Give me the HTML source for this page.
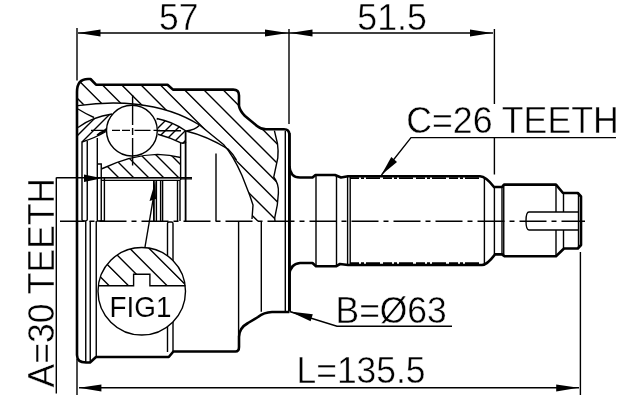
<!DOCTYPE html>
<html><head><meta charset="utf-8"><style>
html,body{margin:0;padding:0;background:#fff;width:640px;height:400px;overflow:hidden}
svg{display:block;filter:grayscale(1)}
text{font-family:"Liberation Sans",sans-serif;fill:#000;stroke:#fff;stroke-width:0.45px}
</style></head><body>
<svg width="640" height="400" viewBox="0 0 640 400">
<defs>
<clipPath id="cb"><path d="M77,92 Q77,79 88,79 L90.5,79 L96,84.7 L167.5,84.7 L173,89.6 L233,89.5 Q239,89.5 239,95.5 L239,106 Q240,111 245,116 L257,126 Q261,129.3 266,129.3 L274.4,130.6 L277.5,143.75 Q278.5,150 277.8,158 L273.75,177 Q279,184 278.4,193 Q278,205 274.7,221 L252,221 L253,205 L250,196 L242,175.5 L237,162.5 L223.5,144.5 L199.5,125 C160,100 110,101 78,105.6 Z"/></clipPath>
<clipPath id="cr"><path d="M101.9,168.75 Q131,155 157.5,154.4 Q170,155 180.6,157.5 L180.6,177.5 L101.9,177.5 Z"/></clipPath>
<clipPath id="ccl"><path d="M78,127.5 Q92,117 112,114 L106,129 L106,131.5 Q96,137.5 82,142 L78,142 Z"/></clipPath>
<clipPath id="ccr"><path d="M156.75,118.5 Q172.5,121.5 186,131 V142 Q184,144 180.4,142.7 Q170,137.5 157.9,134.3 Z"/></clipPath>
</defs>
<g fill="none" stroke="#000" stroke-width="1.4">
<path clip-path="url(#cb)" d="M60,100.40L300,340.40M60,81.10L300,321.10M60,61.80L300,301.80M60,42.50L300,282.50M60,23.20L300,263.20M60,3.90L300,243.90M60,-15.40L300,224.60M60,-34.70L300,205.30M60,-54.00L300,186.00M60,-73.30L300,166.70M60,-92.60L300,147.40M60,-111.90L300,128.10M60,-131.20L300,108.80M60,-150.50L300,89.50M60,-169.80L300,70.20M60,-189.10L300,50.90M60,-208.40L300,31.60M60,-227.70L300,12.30M60,-247.00L300,-7.00"/>
<path clip-path="url(#cr)" d="M60,119.00L300,359.00M60,104.00L300,344.00M60,89.00L300,329.00M60,74.00L300,314.00M60,59.00L300,299.00M60,44.00L300,284.00M60,29.00L300,269.00M60,14.00L300,254.00M60,-1.00L300,239.00M60,-16.00L300,224.00M60,-31.00L300,209.00"/>
<path clip-path="url(#ccl)" d="M60,131.00L300,-109.00M60,142.00L300,-98.00M60,153.00L300,-87.00M60,164.00L300,-76.00M60,175.00L300,-65.00M60,186.00L300,-54.00"/>
<path clip-path="url(#ccr)" d="M60,216.00L300,-24.00M60,226.00L300,-14.00M60,236.00L300,-4.00M60,246.00L300,6.00M60,256.00L300,16.00M60,266.00L300,26.00"/>
<path d="M78,105.6 C110,101 160,100 199.5,125 L223.5,144.5 Q233,155 242,175.5 L250,196 L253,205 L252,219"/>
<path d="M274.4,130.6 L277.5,143.75 Q278.5,150 277.8,158 L273.75,177 Q279,184 278.4,193 Q278,205 274.7,218 L275,221"/>
<path d="M101.9,168.75 Q131,155 157.5,154.4 Q170,155 180.6,157.5"/>
<path d="M78,127.5 Q92,117 112,114 M106,131.5 Q96,137.5 82,142 M106,130 Q101,132 97,135"/>
<path d="M156.75,118.5 Q172.5,121.5 186,131 Q195,130 199.5,125.3 M157.9,134.3 Q170,137.5 180.4,142.7 Q184,144 186,142 M186,131 Q207,136 228,149 Q233,154 236.5,160"/>
<path d="M78,109 Q86,114 94,117.5"/>
<circle cx="131.9" cy="130.6" r="25.4" fill="#fff"/>
</g>
<path fill="none" stroke="#000" stroke-width="1.4" d="M132.6,95V125 M132.6,128V135 M132.6,138V165.5 M91,130.4H106 M112,130.4H120 M122,130.4H130 M134.5,130.4H150.5 M153.5,130.4H160 M158,130.7H181"/>
<g fill="none" stroke="#000" stroke-width="2.6" stroke-linejoin="round">
<path d="M77,221 V92 Q77,79 88,79 H90.5 L96,84.7 H167.5 L173,89.6 H233 Q239,89.5 239,95.5 V106 Q240,111 245,116 L257,126 Q261,129.3 266,129.3 H284 Q289.4,129.3 289.4,135 V311"/>
<path d="M77,221 V355 Q77,362.5 86,362.5 H90 L96,357 H168.75 L173.4,351.5 H235.5 Q239,351.5 239,347 V337 Q239,328 248,323 L258,317 Q264,312.3 272,312 H289.4"/>
<path d="M289.4,166 Q290,177.5 300,177.5 H312.5 L315.5,175 H335 L341,177.5 L348,176.25 H480 Q486,176.5 494,187 H502 L504,184.6 H556 L563,193 H577.8 L581,196.5 V245 L577.8,248.5 H564 L556,256.25 H504.5 L502,254.4 H495 Q487,265 482,265 H348 L340,264 L336,266.25 H316 L312.5,263 H300 Q290,264 289.4,275 V311"/>
<path d="M289.4,133 V311"/>
<path stroke-width="1.8" d="M185.6,131 V221 M153.9,180 V221"/>
</g>
<g fill="none" stroke="#000" stroke-width="1.4">
<path d="M82,142 V220 Q84.6,222 87.25,220 V141 M97,164 H101.25 V221 M97.3,138 V221 M104.4,177.5 V221 H97"/>
<path d="M85.75,221 V362 M90.25,221 V362 M96.25,221 V357"/>
<path d="M156.4,180 V221 M160.6,180 V221 M162.6,180 V221 M177.5,180 V221 M180,180 V221 M180.6,143 V180 M216,153.5 V221"/>
<path d="M167.5,352 V223.5 Q167.5,222 169,222 H171.5 Q173,222 173,223.5 V352"/>
<path d="M238.6,221 V337 M261.3,221 V311.7 M285.3,221 V311"/>
<path d="M285.3,131 V221"/>
<path d="M101,177.6 H180 M101,180.4 H180 M180,178.9 H192"/>
<path d="M316,176 V266 M336.5,176 V266 M347.6,177 V265 M350.2,177 V265 M484.4,178 V264 M494.4,187 V254 M502,187 V254 M503.75,185 V256 M556,186 V212 M556,230 V256 M563.5,193 V212 M563.5,230 V248 M578.5,194 V247"/>
<path d="M578.5,212 H529 Q526,212 526,221 Q526,230 529,230 H578.5"/>
<path stroke-width="1.6" stroke-dasharray="9 2 3 2 14 3" d="M350,178.1 H480 M350,263.1 H480"/>
</g>
<path fill="none" stroke="#000" stroke-width="1.4" stroke-dasharray="27 5 5 5" stroke-dashoffset="2.5" d="M60,221.2 H585"/>
<clipPath id="cf"><circle cx="141.75" cy="291.25" r="43.75"/></clipPath>
<clipPath id="cf2"><path d="M98,285.7 H133.6 V274.2 H149.9 V285.7 H185.5 V240 H98 Z"/></clipPath>
<circle cx="141.75" cy="291.25" r="43.75" fill="#fff" stroke="#000" stroke-width="1.4"/>
<g clip-path="url(#cf)"><path clip-path="url(#cf2)" fill="none" stroke="#000" stroke-width="1.4" d="M60,236.50L300,476.50M60,217.20L300,457.20M60,197.90L300,437.90M60,178.60L300,418.60M60,159.30L300,399.30"/></g>
<path fill="none" stroke="#000" stroke-width="1.4" d="M98,285.7 H133.6 V274.2 H149.9 V285.7 H185.5"/>
<path fill="none" stroke="#000" stroke-width="1.4" d="M145,247 L153,200"/>
<path d="M155.5,180.5 L149.5,201 L156,199 Z" fill="#000"/>
<g fill="none" stroke="#000" stroke-width="1.4">
<path d="M77,28V80.5 M289,29V124 M494.4,29V104 M494.4,138V174.5 M580.4,252V395 M77,359V395 M56.3,177.5V393.5"/>
<path d="M78,33H493 M79,387.8H579 M56.3,177.8H192"/>
<path d="M616,137.6H411L381.5,175 M289.5,311.5L337,326.2H452"/>
</g>
<g fill="#000">
<path d="M78,33L100.5,29.5L100.5,36.5Z M288,33L265,29.5L265,36.5Z M290,33L312.5,29.5L312.5,36.5Z M492,33L470,29.5L470,36.5Z"/>
<path d="M79,387.8L101.4,384.4L101.4,391.6Z M578.5,387.8L556.2,384.4L556.2,391.6Z"/>
<path d="M102,178.3L84,174.5L84,182Z"/>
<path d="M381.3,175L391.3,157L397,162Z"/>
<path d="M289.8,311.4L312.8,314.2L310.6,321.2Z"/>
</g>
<text transform="translate(159,30) scale(0.945,1)" font-size="37.5">57</text>
<text transform="translate(357.3,30) scale(0.952,1)" font-size="37.5">51.5</text>
<text transform="translate(406.2,133.2) scale(0.952,1)" font-size="37.5">C=26 TEETH</text>
<text transform="translate(335.5,322.6) scale(0.945,1)" font-size="37.5">B=Ø63</text>
<text transform="translate(296.5,383) scale(0.945,1)" font-size="37.5">L=135.5</text>
<text style="stroke-width:0.1px" transform="translate(109.6,317.3) scale(0.96,1)" font-size="29">FIG1</text>
<text transform="translate(54,387.5) rotate(-90) scale(0.947,1)" font-size="37.5">A=30 TEETH</text>
</svg>
</body></html>
